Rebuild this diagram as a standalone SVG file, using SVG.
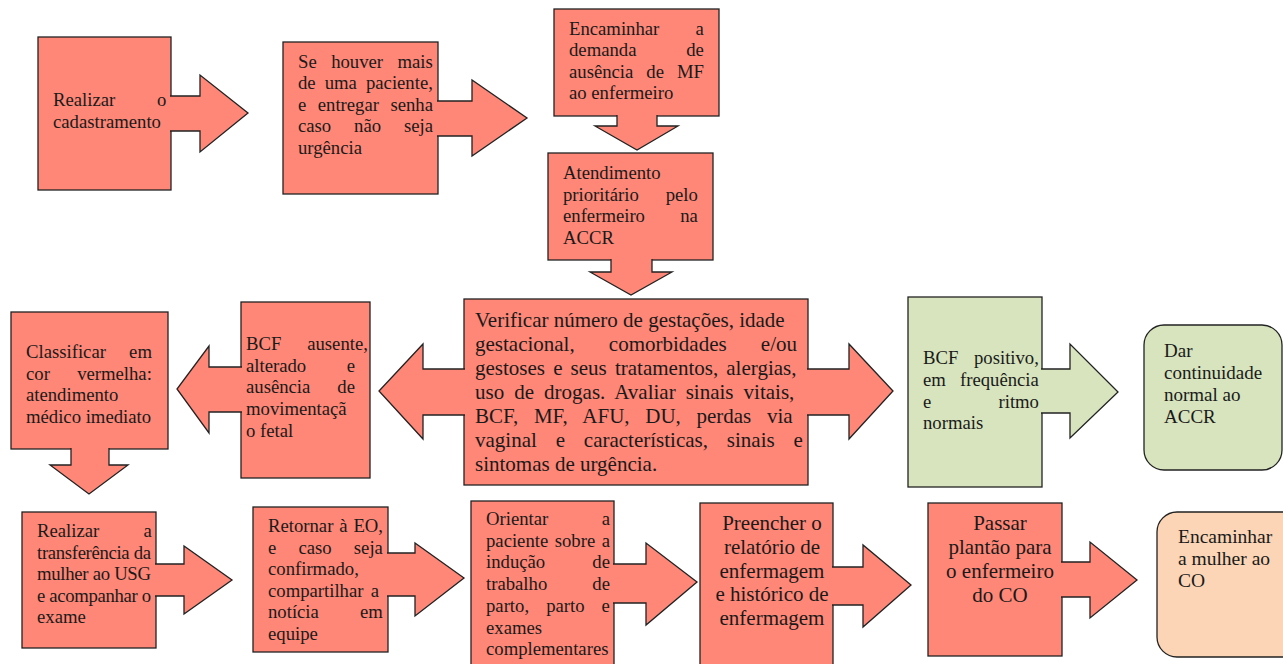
<svg xmlns="http://www.w3.org/2000/svg" width="1283" height="664" viewBox="0 0 1283 664">
<style>
.red{fill:#FF8777;stroke:#222;stroke-width:1.3}
.green{fill:#D7E4BD;stroke:#222;stroke-width:1.3}
.peach{fill:#FBD5B5;stroke:#222;stroke-width:1.3}
.t{font-family:'Liberation Serif','Times New Roman',serif;font-size:18.7px;fill:#1a1a1a}
.tl{font-size:21px}
.ts{font-size:19px}
.c{text-anchor:middle}
</style>
<rect width="1283" height="664" fill="#fff"/>
<g id="n1"><rect class="red" x="38" y="37" width="133" height="153"/>
<text class="t" x="53" y="106" word-spacing="37.1">Realizar o</text>
<text class="t" x="53" y="127.5">cadastramento</text></g>
<g id="n2"><rect class="red" x="283" y="42" width="155" height="152"/>
<text class="t" x="298" y="67.5" word-spacing="9.8">Se houver mais</text>
<text class="t" x="298" y="89" word-spacing="4.4">de uma paciente,</text>
<text class="t" x="298" y="110.5" word-spacing="6.8">e entregar senha</text>
<text class="t" x="298" y="132" word-spacing="18.2">caso não seja</text>
<text class="t" x="298" y="153.5">urgência</text></g>
<g id="n3"><rect class="red" x="554" y="9" width="165" height="107"/>
<text class="t" x="569" y="34.5" word-spacing="31.6">Encaminhar a</text>
<text class="t" x="569" y="56" word-spacing="45.1">demanda de</text>
<text class="t" x="569" y="77.5" word-spacing="8.3">ausência de MF</text>
<text class="t" x="569" y="99">ao enfermeiro</text></g>
<g id="n4"><rect class="red" x="548" y="153" width="165" height="107"/>
<text class="t" x="563" y="179">Atendimento</text>
<text class="t" x="563" y="200.5" word-spacing="22.3">prioritário pelo</text>
<text class="t" x="563" y="222" word-spacing="30.6">enfermeiro na</text>
<text class="t" x="563" y="243.5">ACCR</text></g>
<g id="n5"><rect class="red" x="464" y="299" width="344" height="186"/>
<text class="t tl" x="475" y="327">Verificar número de gestações, idade</text>
<text class="t tl" x="475" y="351" word-spacing="28.9">gestacional, comorbidades e/ou</text>
<text class="t tl" x="475" y="375" word-spacing="2.9">gestoses e seus tratamentos, alergias,</text>
<text class="t tl" x="475" y="399" word-spacing="4.8">uso de drogas. Avaliar sinais vitais,</text>
<text class="t tl" x="475" y="423" word-spacing="10.4">BCF, MF, AFU, DU, perdas via</text>
<text class="t tl" x="475" y="447" word-spacing="13.6">vaginal e características, sinais e</text>
<text class="t tl" x="475" y="471">sintomas de urgência.</text></g>
<g id="n6"><rect class="red" x="241" y="302" width="129" height="176"/>
<text class="t" x="246" y="350" word-spacing="21.2">BCF ausente,</text>
<text class="t" x="246" y="371.7" word-spacing="35.8">alterado e</text>
<text class="t" x="246" y="393.3" word-spacing="22.3">ausência de</text>
<text class="t" x="246" y="415">movimentaçã</text>
<text class="t" x="246" y="436.7">o fetal</text></g>
<g id="n7"><rect class="red" x="11" y="312" width="157" height="137"/>
<text class="t" x="26" y="358" word-spacing="18.5">Classificar em</text>
<text class="t" x="26" y="380" word-spacing="22.6">cor vermelha:</text>
<text class="t" x="26" y="401">atendimento</text>
<text class="t" x="26" y="423">médico imediato</text></g>
<g id="n8"><rect class="green" x="908" y="297" width="134" height="190"/>
<text class="t" x="923" y="364" word-spacing="11">BCF positivo,</text>
<text class="t" x="923" y="386" word-spacing="9.5">em frequência</text>
<text class="t" x="923" y="407.5" word-spacing="62.5">e ritmo</text>
<text class="t" x="923" y="429">normais</text></g>
<g id="n9"><rect class="green" x="1144" y="325" width="138" height="145" rx="20"/>
<text class="t ts" x="1164" y="357">Dar</text>
<text class="t ts" x="1164" y="379">continuidade</text>
<text class="t ts" x="1164" y="401">normal ao</text>
<text class="t ts" x="1164" y="423">ACCR</text></g>
<g id="n10"><rect class="red" x="22" y="512" width="134" height="136"/>
<text class="t" x="37" y="537" word-spacing="39.7">Realizar a</text>
<text class="t" x="37" y="558.5" textLength="114" lengthAdjust="spacing">transferência da</text>
<text class="t" x="37" y="580" textLength="114" lengthAdjust="spacing">mulher ao USG</text>
<text class="t" x="37" y="601.5" textLength="114" lengthAdjust="spacing">e acompanhar o</text>
<text class="t" x="37" y="623">exame</text></g>
<g id="n11"><rect class="red" x="253" y="507" width="135" height="145"/>
<text class="t" x="268" y="532" word-spacing="1.2">Retornar à EO,</text>
<text class="t" x="268" y="553.5" word-spacing="17.5">e caso seja</text>
<text class="t" x="268" y="575">confirmado,</text>
<text class="t" x="268" y="596.5" word-spacing="2.7">compartilhar a</text>
<text class="t" x="268" y="618" word-spacing="36.5">notícia em</text>
<text class="t" x="268" y="639.5">equipe</text></g>
<g id="n12"><rect class="red" x="471" y="501" width="143" height="180"/>
<text class="t" x="486" y="525" word-spacing="48.7">Orientar a</text>
<text class="t" x="486" y="546.7" word-spacing="1.8">paciente sobre a</text>
<text class="t" x="486" y="568.4" word-spacing="42.5">indução de</text>
<text class="t" x="486" y="590" word-spacing="40.4">trabalho de</text>
<text class="t" x="486" y="611.8" word-spacing="12.4">parto, parto e</text>
<text class="t" x="486" y="633.5">exames</text>
<text class="t" x="486" y="655.2">complementares</text></g>
<g id="n13"><rect class="red" x="700" y="503" width="133" height="180"/>
<text class="t tl c" x="772" y="530">Preencher o</text>
<text class="t tl c" x="772" y="553.8">relatório de</text>
<text class="t tl c" x="772" y="577.6">enfermagem</text>
<text class="t tl c" x="772" y="601.4">e histórico de</text>
<text class="t tl c" x="772" y="625.2">enfermagem</text></g>
<g id="n14"><rect class="red" x="928" y="503" width="134" height="153"/>
<text class="t tl c" x="1000" y="530">Passar</text>
<text class="t tl c" x="1000" y="554">plantão para</text>
<text class="t tl c" x="1000" y="578">o enfermeiro</text>
<text class="t tl c" x="1000" y="602">do CO</text></g>
<g id="n15"><rect class="peach" x="1157" y="512" width="150" height="145" rx="20"/>
<text class="t" style="font-size:19.5px" x="1178" y="543">Encaminhar</text>
<text class="t" style="font-size:19.5px" x="1178" y="565">a mulher ao</text>
<text class="t" style="font-size:19.5px" x="1178" y="587">CO</text></g>
<g id="connectors">
<path class="red" d="M170,96 H200 V75 L248,113 L200,152 V131 H170"/>
<path class="red" d="M437,101 H472 V80 L527,118 L472,156 V136 H437"/>
<path class="red" d="M617,115 V126 H595 L637,150 L678,126 H657 V115"/>
<path class="red" d="M611,259 V272 H590 L631,295 L672,272 H652 V259"/>
<path class="red" d="M465,369 H423 V344 L379,391 L423,439 V415 H465"/>
<path class="red" d="M807,369 H849 V344 L893,391 L849,439 V415 H807"/>
<path class="red" d="M242,367 H209 V346 L177,389 L209,433 V412 H242"/>
<path class="red" d="M71,448 V465 H50 L89,494 L128,465 H109 V448"/>
<path class="green" d="M1041,369 H1070 V344 L1118,392 L1070,438 V413 H1041"/>
<path class="red" d="M155,564 H184 V546 L232,580 L184,614 V596 H155"/>
<path class="red" d="M387,553 H415 V543 L464,578 L415,616 V596 H387"/>
<path class="red" d="M613,564 H646 V543 L697,582 L646,625 V603 H613"/>
<path class="red" d="M832,567 H863 V545 L911,585 L863,627 V605 H832"/>
<path class="red" d="M1061,562 H1090 V542 L1137,580 L1090,618 V597 H1061"/>
</g>
</svg>
